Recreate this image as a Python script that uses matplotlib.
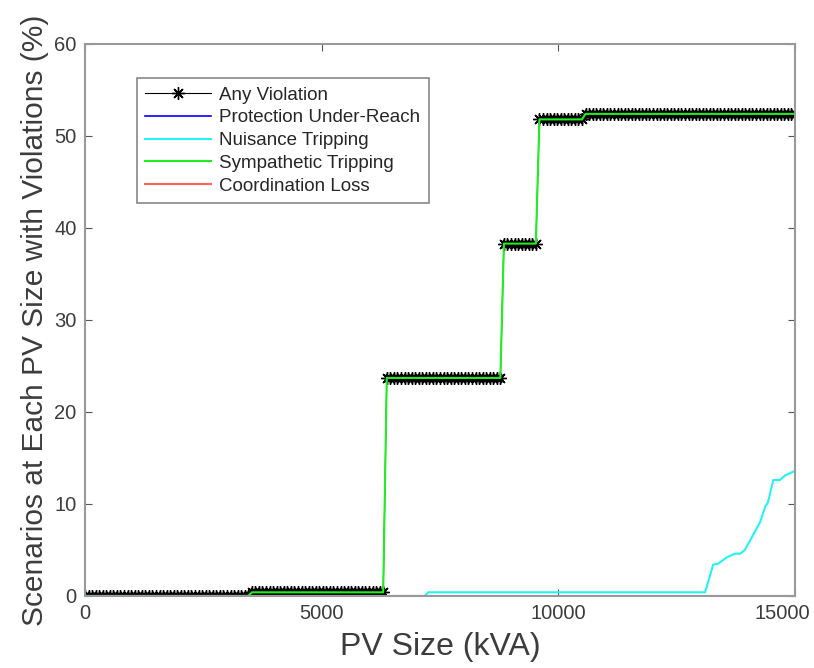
import matplotlib.pyplot as plt
import matplotlib.transforms as mtransforms
import numpy as np

plt.rcParams['font.family'] = ['Liberation Sans', 'DejaVu Sans']

# PV size grid (kVA)
pv_kva = np.arange(0, 15001, 75)

# step levels of "Any Violation" / "Sympathetic Tripping" (% of scenarios)
step_start_kva = [0, 3500, 6340, 8810, 9560, 10540]
step_level = [0.0, 0.4, 23.7, 38.3, 51.8, 52.4]

# nuisance tripping curve
nuisance_kva = [0, 7180, 7250, 13100, 13270, 13370, 13560, 13730, 13840, 13940,
                14090, 14260, 14370, 14430, 14540, 14680, 14790, 15000]
nuisance_pct = [0.0, 0.0, 0.4, 0.4, 3.4, 3.5, 4.2, 4.6, 4.6, 5.0,
                6.4, 8.0, 9.7, 10.2, 12.6, 12.6, 13.1, 13.6]

idx = np.searchsorted(step_start_kva, pv_kva, side='right') - 1
any_violation = np.array(step_level)[idx]
sympathetic = any_violation.copy()
under_reach = np.zeros(len(pv_kva))
coordination = np.zeros(len(pv_kva))

fig = plt.figure(figsize=(8.14, 6.68), dpi=100)
ax = fig.add_axes([0.1044, 0.1078, 0.8723, 0.8264])

# matlab style '*' marker = plus + cross
ax.plot(pv_kva, any_violation, color='black', lw=0.8, marker=(8, 2, 0), ms=9,
        mew=1.0, label='Any Violation')
ax.plot(pv_kva, under_reach, color='#0000ff', lw=1.2, label='Protection Under-Reach')
ax.plot(nuisance_kva, nuisance_pct, color='#22f4f4', lw=1.5, label='Nuisance Tripping')
ax.plot(pv_kva, sympathetic, color='#22ee22', lw=1.5, label='Sympathetic Tripping')
ax.plot(pv_kva, coordination, color='#ff6060', lw=1.5, label='Coordination Loss')

ax.set_xlim(0, 15000)
ax.set_ylim(0, 60)
ax.set_xticks([0, 5000, 10000, 15000])
ax.set_yticks([0, 10, 20, 30, 40, 50, 60])
ax.tick_params(direction='in', top=True, right=True, length=5, width=0.8,
               color='#555555', labelsize=14.5, labelcolor='#3c3c3c', pad=6)
for s in ax.spines.values():
    s.set_color('#999999')
    s.set_linewidth(1.5)

# nudge the last x tick label so it stays inside the figure
last = ax.get_xticklabels()[-1]
last.set_transform(last.get_transform() +
                   mtransforms.ScaledTranslation(-0.13, 0, fig.dpi_scale_trans))

ax.set_xlabel('PV Size (kVA)', fontsize=23, color='#3c3c3c', labelpad=6)
ax.set_ylabel('Scenarios at Each PV Size with Violations (%)', fontsize=21.5,
              color='#3c3c3c', labelpad=4)

leg = ax.legend(loc='upper left', bbox_to_anchor=(0.073, 0.938), fontsize=13.5,
                fancybox=False, framealpha=1, edgecolor='#888888',
                handlelength=3.5, labelspacing=0.3, numpoints=1,
                borderaxespad=0, borderpad=0.45, handletextpad=0.45)
leg.get_frame().set_linewidth(1.2)
for t in leg.get_texts():
    t.set_color('#262626')

fig.savefig('out.png', dpi=100)
